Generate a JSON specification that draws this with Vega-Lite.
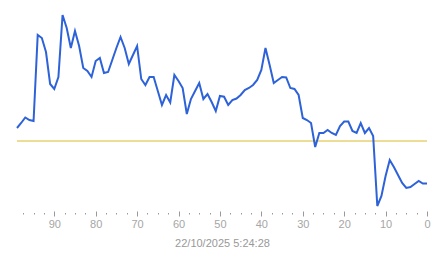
{
  "$schema": "https://vega.github.io/schema/vega-lite/v6.json",
  "width": 410,
  "height": 211,
  "autosize": "none",
  "padding": {"left": 17, "top": 0, "right": 16, "bottom": 47},
  "background": "white",
  "config": {"view": {"stroke": null}, "font": "Liberation Sans"},
  "data": {"values": [
    {"t": 99, "v": 83}, {"t": 98, "v": 88}, {"t": 97, "v": 93.5}, {"t": 96, "v": 91}, {"t": 95, "v": 90},
    {"t": 94, "v": 176}, {"t": 93, "v": 173}, {"t": 92, "v": 159}, {"t": 91, "v": 127}, {"t": 90, "v": 122},
    {"t": 89, "v": 134}, {"t": 88, "v": 196}, {"t": 87, "v": 183}, {"t": 86, "v": 163}, {"t": 85, "v": 180},
    {"t": 84, "v": 165}, {"t": 83, "v": 143}, {"t": 82, "v": 140}, {"t": 81, "v": 134}, {"t": 80, "v": 150},
    {"t": 79, "v": 153}, {"t": 78, "v": 138}, {"t": 77, "v": 139}, {"t": 76, "v": 151}, {"t": 75, "v": 163},
    {"t": 74, "v": 174}, {"t": 73, "v": 163}, {"t": 72, "v": 147}, {"t": 71, "v": 156}, {"t": 70, "v": 165},
    {"t": 69, "v": 132}, {"t": 68, "v": 126}, {"t": 67, "v": 134}, {"t": 66, "v": 134}, {"t": 65, "v": 120},
    {"t": 64, "v": 106}, {"t": 63, "v": 116}, {"t": 62, "v": 108.5}, {"t": 61, "v": 136}, {"t": 60, "v": 130},
    {"t": 59, "v": 123}, {"t": 58, "v": 97}, {"t": 57, "v": 112}, {"t": 56, "v": 120}, {"t": 55, "v": 128},
    {"t": 54, "v": 112}, {"t": 53, "v": 117}, {"t": 52, "v": 109}, {"t": 51, "v": 100}, {"t": 50, "v": 115},
    {"t": 49, "v": 114.3}, {"t": 48, "v": 106}, {"t": 47, "v": 111}, {"t": 46, "v": 112.5}, {"t": 45, "v": 116},
    {"t": 44, "v": 121}, {"t": 43, "v": 123}, {"t": 42, "v": 126}, {"t": 41, "v": 131}, {"t": 40, "v": 141},
    {"t": 39, "v": 163}, {"t": 38, "v": 146}, {"t": 37, "v": 128}, {"t": 36, "v": 131}, {"t": 35, "v": 134},
    {"t": 34, "v": 133.5}, {"t": 33, "v": 123}, {"t": 32, "v": 122}, {"t": 31, "v": 116}, {"t": 30, "v": 93},
    {"t": 29, "v": 91}, {"t": 28, "v": 88}, {"t": 27, "v": 64}, {"t": 26, "v": 78}, {"t": 25, "v": 78},
    {"t": 24, "v": 81}, {"t": 23, "v": 78}, {"t": 22, "v": 76}, {"t": 21, "v": 85}, {"t": 20, "v": 89.5},
    {"t": 19, "v": 89.5}, {"t": 18, "v": 80}, {"t": 17, "v": 78}, {"t": 16, "v": 88}, {"t": 15, "v": 78},
    {"t": 14, "v": 83}, {"t": 13, "v": 75}, {"t": 12, "v": 5}, {"t": 11, "v": 15}, {"t": 10, "v": 35},
    {"t": 9, "v": 51}, {"t": 8, "v": 44}, {"t": 7, "v": 36}, {"t": 6, "v": 28}, {"t": 5, "v": 23},
    {"t": 4, "v": 24}, {"t": 3, "v": 27}, {"t": 2, "v": 30}, {"t": 1, "v": 27.5}, {"t": 0, "v": 27.5}
  ]},
  "layer": [
    {
      "mark": {"type": "rule", "color": "#ecdc94", "strokeWidth": 1},
      "encoding": {
        "y": {"datum": 70, "type": "quantitative", "scale": {"domain": [0, 211], "nice": false, "zero": false}, "axis": null}
      }
    },
    {
      "mark": {"type": "line", "color": "#2e62d8", "strokeWidth": 2, "interpolate": "linear"},
      "encoding": {
        "x": {
          "field": "t", "type": "quantitative",
          "scale": {"domain": [0, 99], "reverse": true, "nice": false, "zero": false},
          "axis": {
            "title": "22/10/2025 5:24:28",
            "titleFont": "Liberation Sans",
            "titleFontSize": 11,
            "titleFontWeight": "normal",
            "titleColor": "#999999",
            "titlePadding": 8,
            "values": [0, 2.5, 5, 7.5, 10, 12.5, 15, 17.5, 20, 22.5, 25, 27.5, 30, 32.5, 35, 37.5, 40, 42.5, 45, 47.5, 50, 52.5, 55, 57.5, 60, 62.5, 65, 67.5, 70, 72.5, 75, 77.5, 80, 82.5, 85, 87.5, 90, 92.5, 95, 97.5],
            "labelExpr": "datum.value % 10 === 0 ? datum.value : ''",
            "labelFont": "Liberation Sans",
            "labelFontSize": 11,
            "labelColor": "#a6a6a6",
            "labelPadding": 2,
            "labelFlush": false,
            "labelOverlap": false,
            "domain": false,
            "grid": false,
            "tickSize": 5,
            "tickColor": "#999999",
            "tickWidth": 1,
            "tickDash": {"condition": {"test": "datum.value % 10 !== 0", "value": [0, 1.5, 1.5, 10]}, "value": [10, 0]}
          }
        },
        "y": {"field": "v", "type": "quantitative", "scale": {"domain": [0, 211], "nice": false, "zero": false}, "axis": null}
      }
    }
  ]
}
